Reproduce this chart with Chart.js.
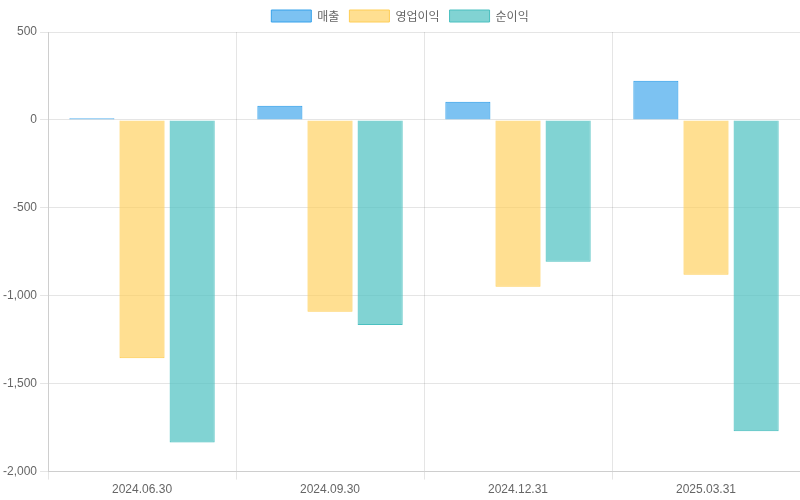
<!DOCTYPE html>
<html>
<head>
<meta charset="utf-8">
<script src="https://cdn.jsdelivr.net/npm/chart.js@4"></script>
<style>
    body { margin: 0; background: #fff; }
    #wrap { width: 800px; height: 500px; }
</style>
</head>
<body>
<div id="wrap"><canvas id="finChart"></canvas></div>
<script>
const quarters = ['2024.06.30', '2024.09.30', '2024.12.31', '2025.03.31'];
const revenue = [10, 80, 103, 223];
const operatingProfit = [-1355, -1091, -949, -880];
const netProfit = [-1835, -1166, -806, -1771];

Chart.defaults.font.family = "'Liberation Sans', 'Noto Sans CJK KR', sans-serif";
Chart.defaults.font.size = 12;
Chart.defaults.color = '#666';

const ctx = document.getElementById('finChart').getContext('2d');
new Chart(ctx, {
    type: 'bar',
    data: {
        labels: quarters,
        datasets: [{
            label: '매출',
            data: revenue,
            backgroundColor: 'rgba(54, 162, 235, 0.65)',
            borderColor: 'rgba(54, 162, 235, 1)',
            borderWidth: 1
        }, {
            label: '영업이익',
            data: operatingProfit,
            backgroundColor: 'rgba(255, 206, 86, 0.65)',
            borderColor: 'rgba(255, 206, 86, 1)',
            borderWidth: 1
        }, {
            label: '순이익',
            data: netProfit,
            backgroundColor: 'rgba(75, 192, 192, 0.7)',
            borderColor: 'rgba(75, 192, 192, 1)',
            borderWidth: 1
        }]
    },
    options: {
        responsive: true,
        maintainAspectRatio: false,
        animation: false,
        plugins: {
            legend: {
                position: 'top',
                labels: { font: { family: "'Noto Sans CJK KR', sans-serif" } }
            }
        },
        scales: {
            y: {
                min: -2000,
                max: 500,
                ticks: { stepSize: 500 }
            }
        }
    }
});
</script>
</body>
</html>
